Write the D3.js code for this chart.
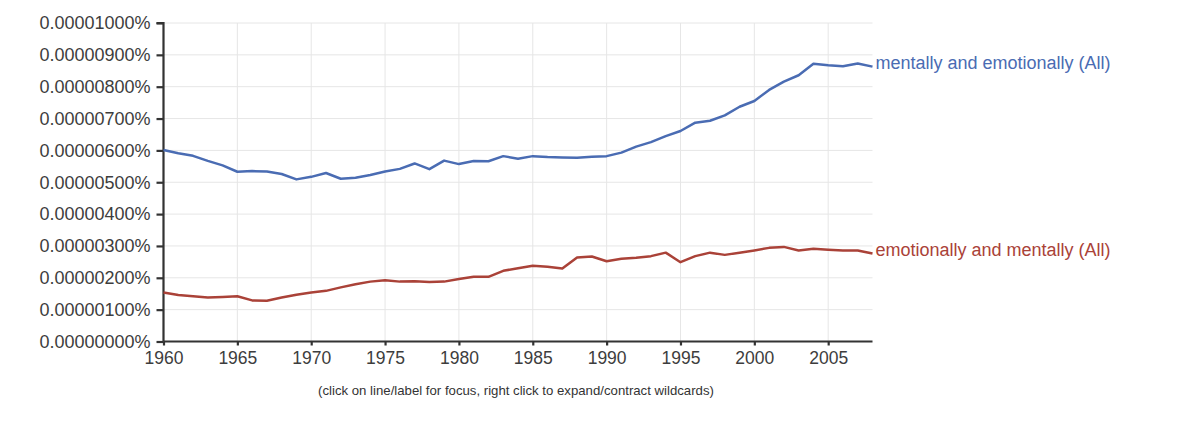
<!DOCTYPE html>
<html>
<head>
<meta charset="utf-8">
<script src="https://cdn.jsdelivr.net/npm/d3@7"></script>
<style>
  body { margin: 0; background: #fff; }
  svg { font-family: "Liberation Sans", Arial, sans-serif; }
</style>
</head>
<body>
<svg id="chart" width="1200" height="433"></svg>
<script>
// values are in units of 0.000001 %
const years = d3.range(1960, 2009)

const mentallyEmotionally = [
  6.01, 5.91, 5.83, 5.67, 5.53, 5.33, 5.35, 5.34, 5.26, 5.09,
  5.17, 5.29, 5.11, 5.14, 5.23, 5.34, 5.42, 5.59, 5.41, 5.68,
  5.57, 5.67, 5.66, 5.82, 5.74, 5.82, 5.79, 5.78, 5.77, 5.80,
  5.82, 5.93, 6.12, 6.26, 6.45, 6.61, 6.87, 6.93, 7.10, 7.37,
  7.55, 7.90, 8.16, 8.36, 8.72, 8.67, 8.64, 8.73, 8.63
]

const emotionallyMentally = [
  1.54, 1.46, 1.42, 1.38, 1.40, 1.42, 1.29, 1.28, 1.38, 1.47,
  1.54, 1.59, 1.70, 1.80, 1.88, 1.92, 1.88, 1.89, 1.87, 1.88,
  1.96, 2.03, 2.03, 2.22, 2.30, 2.38, 2.35, 2.29, 2.64, 2.67,
  2.52, 2.60, 2.63, 2.68, 2.79, 2.49, 2.68, 2.79, 2.72, 2.79,
  2.86, 2.94, 2.97, 2.86, 2.91, 2.88, 2.86, 2.86, 2.76
]

const seriesNames = ["mentally and emotionally (All)", "emotionally and mentally (All)"]
const seriesColors = ["#4a6cb3", "#aa4238"]
const yTicks = d3.range(0, 11)
const xTicks = d3.range(1960, 2006, 5)

const m = { left: 163.5, right: 872.5, top: 23, bottom: 341.5 }

const svg = d3.select("#chart")

const x = d3.scaleLinear().domain([1960, 2008]).range([m.left, m.right])
const y = d3.scaleLinear().domain([0, 10]).range([m.bottom, m.top])

// grid
svg.append("g")
  .selectAll("line")
  .data(yTicks.slice(1))
  .join("line")
  .attr("x1", m.left).attr("x2", m.right)
  .attr("y1", d => y(d)).attr("y2", d => y(d))
  .attr("stroke", "#e6e6e6").attr("stroke-width", 1)

svg.append("g")
  .selectAll("line")
  .data(xTicks.slice(1))
  .join("line")
  .attr("x1", d => x(d)).attr("x2", d => x(d))
  .attr("y1", m.top).attr("y2", m.bottom)
  .attr("stroke", "#e6e6e6").attr("stroke-width", 1)

// axes
let yAxis = d3.axisLeft(y)
  .tickValues(yTicks)
  .tickSize(7)
  .tickPadding(6)
  .tickFormat(d => (d / 1e6).toFixed(8) + "%")

let xAxis = d3.axisBottom(x)
  .tickValues(xTicks)
  .tickSize(4)
  .tickPadding(6)
  .tickFormat(d3.format("d"))

const ga = svg.append("g")
  .attr("transform", `translate(${m.left},0)`)
  .call(yAxis)

const gx = svg.append("g")
  .attr("transform", `translate(0,${m.bottom})`)
  .call(xAxis)

for (const g of [ga, gx]) {
  g.select(".domain").attr("stroke", "#333").attr("stroke-width", 2.2)
  g.selectAll(".tick line").attr("stroke", "#333").attr("stroke-width", 2.2)
  g.selectAll(".tick text")
    .attr("fill", "#3d3d3d")
    .style("font-family", "Liberation Sans, Arial, sans-serif")
}
ga.selectAll(".tick text").style("font-size", "18px")
gx.selectAll(".tick text").style("font-size", "17.5px")
ga.select(".domain").attr("d", `M-7,${m.top}H0V${m.bottom}`)
gx.select(".domain").attr("d", `M${m.left},0H${m.right}`)

// lines
const line = d3.line()
  .x((d, i) => x(years[i]))
  .y(d => y(d))

const allSeries = [mentallyEmotionally, emotionallyMentally]

svg.append("g")
  .selectAll("path")
  .data(allSeries)
  .join("path")
  .attr("d", line)
  .attr("fill", "none")
  .attr("stroke", (d, i) => seriesColors[i])
  .attr("stroke-width", 2.5)
  .attr("stroke-linejoin", "round")

svg.append("g")
  .selectAll("text")
  .data(allSeries)
  .join("text")
  .attr("x", m.right + 3)
  .attr("y", d => y(d[d.length - 1]) - 4)
  .attr("dy", "0.35em")
  .attr("fill", (d, i) => seriesColors[i])
  .style("font-size", "18px")
  .text((d, i) => seriesNames[i])

svg.append("text")
  .attr("x", 516)
  .attr("y", 395)
  .attr("text-anchor", "middle")
  .attr("fill", "#333")
  .style("font-size", "13.2px")
  .text("(click on line/label for focus, right click to expand/contract wildcards)")
</script>
</body>
</html>
